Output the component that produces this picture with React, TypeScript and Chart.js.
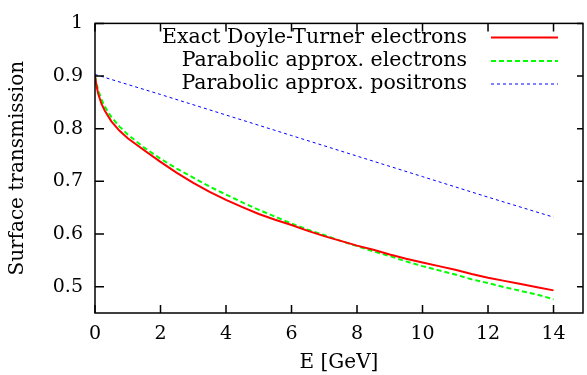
import React, { useEffect, useRef } from "react";
import { Chart, registerables } from "chart.js";

Chart.register(...registerables);

const energies = [0, 0.05, 0.1, 0.2, 0.3, 0.5, 0.75, 1, 1.5, 2, 2.5, 3, 3.5, 4, 4.5, 5, 5.5, 6, 6.5, 7, 7.5, 8, 8.5, 9, 9.5, 10, 10.5, 11, 11.5, 12, 12.5, 13, 13.5, 14];
const exactElectrons = [0.900, 0.880, 0.866, 0.847, 0.834, 0.814, 0.796, 0.782, 0.759, 0.737, 0.716, 0.697, 0.680, 0.665, 0.651, 0.638, 0.627, 0.617, 0.606, 0.596, 0.587, 0.578, 0.570, 0.561, 0.553, 0.546, 0.539, 0.532, 0.524, 0.517, 0.511, 0.505, 0.499, 0.493];
const parabolicElectrons = [0.900, 0.885, 0.873, 0.855, 0.842, 0.822, 0.804, 0.789, 0.764, 0.743, 0.724, 0.707, 0.690, 0.675, 0.660, 0.646, 0.633, 0.620, 0.608, 0.598, 0.587, 0.577, 0.567, 0.558, 0.548, 0.539, 0.531, 0.523, 0.514, 0.507, 0.499, 0.492, 0.485, 0.476];
const positronEnergies = [0, 2, 4, 6, 8, 10, 12, 14];
const parabolicPositrons = [0.903, 0.865, 0.826, 0.787, 0.748, 0.709, 0.670, 0.632];

const xTicks = [0, 2, 4, 6, 8, 10, 12, 14];
const yTicks = [0.5, 0.6, 0.7, 0.8, 0.9, 1];
const labels = ["Exact Doyle-Turner electrons", "Parabolic approx. electrons", "Parabolic approx. positrons"];
const FONT = "'DejaVu Serif', serif";

const framePlugin = {
  id: "frame",
  afterDraw(chart: any) {
    const { ctx, chartArea: a, scales } = chart;
    ctx.save();
    ctx.strokeStyle = "#000";
    ctx.lineWidth = 1.5;
    ctx.strokeRect(a.left, a.top, a.right - a.left, a.bottom - a.top);
    ctx.beginPath();
    xTicks.forEach((v) => {
      const px = scales.x.getPixelForValue(v);
      ctx.moveTo(px, a.bottom);
      ctx.lineTo(px, a.bottom - 8);
      ctx.moveTo(px, a.top);
      ctx.lineTo(px, a.top + 8);
    });
    yTicks.forEach((v) => {
      const py = scales.y.getPixelForValue(v);
      ctx.moveTo(a.left, py);
      ctx.lineTo(a.left + 9, py);
      ctx.moveTo(a.right, py);
      ctx.lineTo(a.right - 6, py);
    });
    ctx.stroke();

    // legend
    ctx.font = `20.5px ${FONT}`;
    ctx.textAlign = "right";
    ctx.textBaseline = "middle";
    ctx.fillStyle = "#000";
    const rows = [37.5, 61, 84];
    chart.data.datasets.forEach((ds: any, i: number) => {
      const y = rows[i];
      ctx.fillText(ds.label, 467, y);
      ctx.beginPath();
      ctx.strokeStyle = ds.borderColor;
      ctx.lineWidth = ds.borderWidth;
      ctx.setLineDash(ds.borderDash || []);
      ctx.moveTo(491, y);
      ctx.lineTo(558, y);
      ctx.stroke();
      ctx.setLineDash([]);
    });
    ctx.restore();
  },
};

export default function App() {
  const ref = useRef<HTMLCanvasElement>(null);
  useEffect(() => {
    document.body.style.margin = "0";
    const chart = new Chart(ref.current!, {
      type: "line",
      data: {
        datasets: [
          {
            label: labels[0],
            data: energies.map((e, i) => ({ x: e, y: exactElectrons[i] })),
            borderColor: "#ff0000",
            borderWidth: 2,
            pointRadius: 0,
          },
          {
            label: labels[1],
            data: energies.map((e, i) => ({ x: e, y: parabolicElectrons[i] })),
            borderColor: "#00ff00",
            borderWidth: 2,
            borderDash: [5, 3],
            pointRadius: 0,
          },
          {
            label: labels[2],
            data: positronEnergies.map((e, i) => ({ x: e, y: parabolicPositrons[i] })),
            borderColor: "#0000ff",
            borderWidth: 1,
            borderDash: [3, 3],
            pointRadius: 0,
          },
        ],
      },
      options: {
        animation: false,
        responsive: false,
        layout: { padding: { top: 16.5, right: 4, left: 0, bottom: 0 } },
        plugins: { legend: { display: false }, tooltip: { enabled: false } },
        scales: {
          x: {
            type: "linear",
            min: 0,
            max: 14.9,
            afterBuildTicks: (s: any) => { s.ticks = xTicks.map((v) => ({ value: v })); },
            afterFit: (s: any) => { s.height = 62; },
            grid: { display: false, drawTicks: false },
            border: { display: false },
            ticks: { font: { family: FONT, size: 19 }, color: "#000", padding: 10, maxRotation: 0 },
            title: { display: true, text: "E [GeV]", font: { family: FONT, size: 20 }, color: "#000", padding: { top: 0, bottom: 0 } },
          },
          y: {
            type: "linear",
            min: 0.45,
            max: 1,
            afterBuildTicks: (s: any) => { s.ticks = yTicks.map((v) => ({ value: v })); },
            afterFit: (s: any) => { s.width = 95; },
            grid: { display: false, drawTicks: false },
            border: { display: false },
            ticks: { font: { family: FONT, size: 19 }, color: "#000", padding: 12, callback: (v: any) => String(v) },
            title: { display: true, text: "Surface transmission", font: { family: FONT, size: 20 }, color: "#000", padding: { top: 6, bottom: 0 } },
          },
        },
      },
      plugins: [framePlugin],
    });
    return () => chart.destroy();
  }, []);
  return <canvas ref={ref} width={587} height={375} style={{ display: "block" }} />;
}
